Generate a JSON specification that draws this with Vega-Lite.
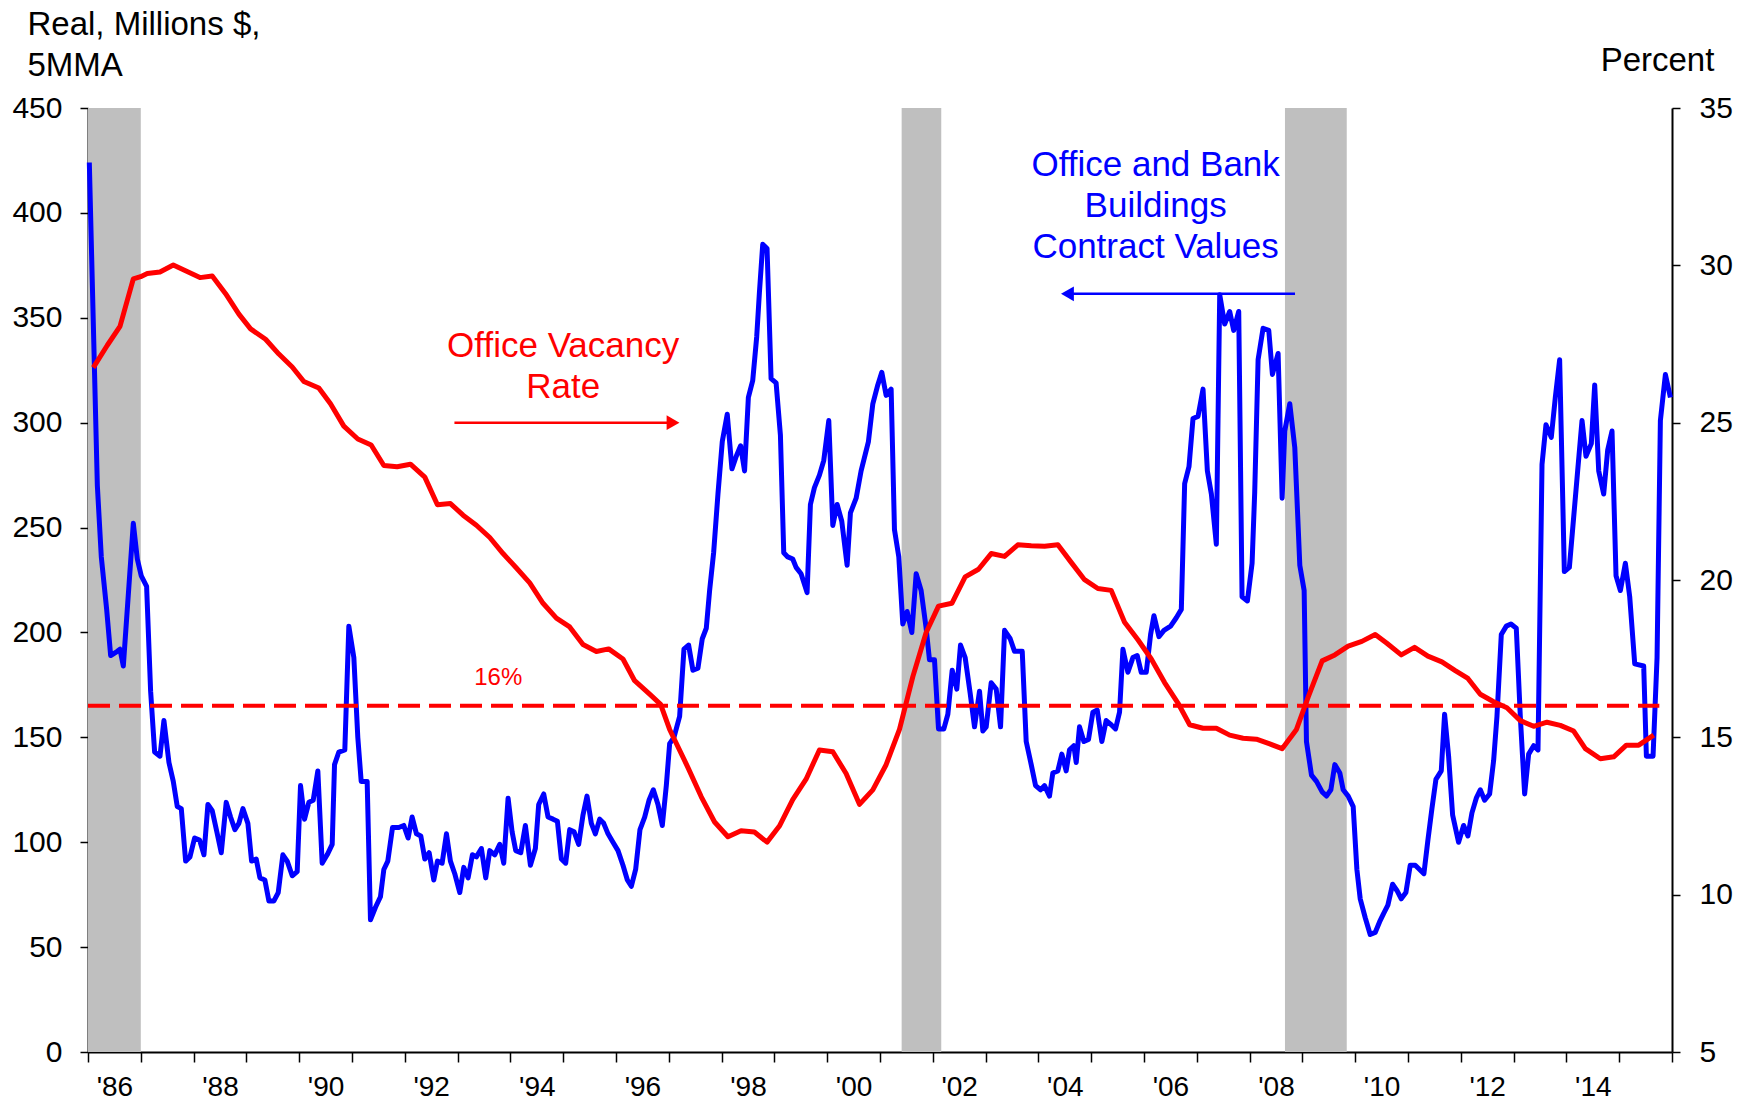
{
  "$schema": "https://vega.github.io/schema/vega-lite/v6.json",
  "width": 1584,
  "height": 944,
  "autosize": {"type": "none"},
  "padding": {"left": 88, "top": 108, "right": 71, "bottom": 50},
  "background": "white",
  "config": {
    "view": {"stroke": null},
    "font": "Liberation Sans",
    "axis": {"grid": false, "labelColor": "black", "titleColor": "black", "domainColor": "black", "tickColor": "black", "titleFontWeight": "normal"}
  },
  "datasets": {
    "blue": [
      {"t":1986.025,"v":424},{"t":1986.177,"v":270},{"t":1986.252,"v":236},{"t":1986.353,"v":211},{"t":1986.429,"v":189},{"t":1986.555,"v":191},{"t":1986.606,"v":192},{"t":1986.669,"v":184},{"t":1986.858,"v":252},{"t":1986.934,"v":235},{"t":1987.009,"v":227},{"t":1987.110,"v":222},{"t":1987.186,"v":172},{"t":1987.262,"v":143},{"t":1987.363,"v":141},{"t":1987.438,"v":158},{"t":1987.533,"v":138},{"t":1987.615,"v":129},{"t":1987.691,"v":117},{"t":1987.767,"v":116},{"t":1987.849,"v":91},{"t":1987.931,"v":93},{"t":1988.019,"v":102},{"t":1988.114,"v":101},{"t":1988.196,"v":94},{"t":1988.271,"v":118},{"t":1988.353,"v":115},{"t":1988.448,"v":104},{"t":1988.524,"v":95},{"t":1988.618,"v":119},{"t":1988.700,"v":112},{"t":1988.782,"v":106},{"t":1988.858,"v":109},{"t":1988.934,"v":116},{"t":1989.028,"v":109},{"t":1989.098,"v":91},{"t":1989.186,"v":92},{"t":1989.256,"v":83},{"t":1989.350,"v":82},{"t":1989.426,"v":72},{"t":1989.521,"v":72},{"t":1989.603,"v":76},{"t":1989.691,"v":94},{"t":1989.773,"v":91},{"t":1989.868,"v":84},{"t":1989.962,"v":86},{"t":1990.025,"v":127},{"t":1990.101,"v":111},{"t":1990.183,"v":119},{"t":1990.265,"v":120},{"t":1990.353,"v":134},{"t":1990.435,"v":90},{"t":1990.530,"v":94},{"t":1990.625,"v":99},{"t":1990.669,"v":137},{"t":1990.751,"v":143},{"t":1990.864,"v":144},{"t":1990.940,"v":203},{"t":1991.035,"v":188},{"t":1991.110,"v":150},{"t":1991.174,"v":129},{"t":1991.287,"v":129},{"t":1991.350,"v":63},{"t":1991.445,"v":69},{"t":1991.539,"v":74},{"t":1991.603,"v":87},{"t":1991.678,"v":91},{"t":1991.767,"v":107},{"t":1991.886,"v":107},{"t":1991.981,"v":108},
      {"t":1992.063,"v":102},{"t":1992.139,"v":112},{"t":1992.221,"v":104},{"t":1992.303,"v":103},{"t":1992.379,"v":92},{"t":1992.461,"v":95},{"t":1992.549,"v":82},{"t":1992.618,"v":91},{"t":1992.707,"v":90},{"t":1992.789,"v":104},{"t":1992.864,"v":91},{"t":1992.946,"v":85},{"t":1993.041,"v":76},{"t":1993.117,"v":88},{"t":1993.199,"v":83},{"t":1993.281,"v":94},{"t":1993.356,"v":93},{"t":1993.451,"v":97},{"t":1993.533,"v":83},{"t":1993.609,"v":96},{"t":1993.703,"v":94},{"t":1993.798,"v":99},{"t":1993.874,"v":90},{"t":1993.956,"v":121},{"t":1994.032,"v":105},{"t":1994.101,"v":96},{"t":1994.196,"v":95},{"t":1994.284,"v":108},{"t":1994.379,"v":89},{"t":1994.473,"v":97},{"t":1994.536,"v":118},{"t":1994.631,"v":123},{"t":1994.713,"v":112},{"t":1994.808,"v":111},{"t":1994.890,"v":110},{"t":1994.965,"v":92},{"t":1995.047,"v":90},{"t":1995.123,"v":106},{"t":1995.205,"v":105},{"t":1995.293,"v":99},{"t":1995.375,"v":113},{"t":1995.451,"v":122},{"t":1995.533,"v":109},{"t":1995.609,"v":104},{"t":1995.691,"v":111},{"t":1995.767,"v":109},{"t":1995.849,"v":104},{"t":1995.943,"v":100},{"t":1996.038,"v":96},{"t":1996.132,"v":89},{"t":1996.215,"v":82},{"t":1996.290,"v":79},{"t":1996.372,"v":87},{"t":1996.454,"v":106},{"t":1996.543,"v":112},{"t":1996.625,"v":120},{"t":1996.707,"v":125},{"t":1996.795,"v":118},{"t":1996.877,"v":108},{"t":1996.953,"v":127},{"t":1997.016,"v":147},{"t":1997.098,"v":150},{"t":1997.205,"v":160},{"t":1997.287,"v":192},{"t":1997.375,"v":194},{"t":1997.457,"v":182},{"t":1997.552,"v":183},{"t":1997.634,"v":197},{"t":1997.710,"v":202},{"t":1997.773,"v":220},{"t":1997.849,"v":238},{"t":1997.931,"v":266},{"t":1998.013,"v":291},{"t":1998.107,"v":304},{"t":1998.196,"v":278},{"t":1998.278,"v":284},{"t":1998.360,"v":289},{"t":1998.435,"v":277},
      {"t":1998.507,"v":312},{"t":1998.589,"v":320},{"t":1998.665,"v":341},{"t":1998.716,"v":362},{"t":1998.779,"v":385},{"t":1998.861,"v":383},{"t":1998.937,"v":321},{"t":1999.032,"v":319},{"t":1999.114,"v":294},{"t":1999.177,"v":238},{"t":1999.253,"v":236},{"t":1999.347,"v":235},{"t":1999.411,"v":231},{"t":1999.505,"v":228},{"t":1999.619,"v":219},{"t":1999.682,"v":261},{"t":1999.758,"v":269},{"t":1999.853,"v":275},{"t":1999.935,"v":282},{"t":2000.030,"v":301},{"t":2000.106,"v":251},{"t":2000.188,"v":261},{"t":2000.276,"v":253},{"t":2000.377,"v":232},{"t":2000.440,"v":257},{"t":2000.548,"v":264},{"t":2000.642,"v":277},{"t":2000.781,"v":291},{"t":2000.864,"v":309},{"t":2000.958,"v":318},{"t":2001.034,"v":324},{"t":2001.116,"v":313},{"t":2001.211,"v":316},{"t":2001.274,"v":249},{"t":2001.356,"v":236},{"t":2001.432,"v":204},{"t":2001.514,"v":210},{"t":2001.603,"v":200},{"t":2001.685,"v":228},{"t":2001.779,"v":220},{"t":2001.874,"v":202},{"t":2001.937,"v":187},{"t":2002.032,"v":187},{"t":2002.108,"v":154},{"t":2002.209,"v":154},{"t":2002.285,"v":161},{"t":2002.367,"v":182},{"t":2002.455,"v":173},{"t":2002.525,"v":194},{"t":2002.613,"v":188},{"t":2002.708,"v":171},{"t":2002.790,"v":155},{"t":2002.885,"v":172},{"t":2002.948,"v":153},{"t":2003.011,"v":155},{"t":2003.106,"v":176},{"t":2003.201,"v":173},{"t":2003.283,"v":155},{"t":2003.359,"v":201},{"t":2003.466,"v":197},{"t":2003.548,"v":191},{"t":2003.694,"v":191},{"t":2003.769,"v":148},{"t":2003.864,"v":137},{"t":2003.946,"v":127},{"t":2004.041,"v":125},
      {"t":2004.115,"v":127},{"t":2004.210,"v":122},{"t":2004.273,"v":133},{"t":2004.368,"v":134},{"t":2004.444,"v":142},{"t":2004.526,"v":134},{"t":2004.589,"v":144},{"t":2004.671,"v":146},{"t":2004.716,"v":138},{"t":2004.779,"v":155},{"t":2004.861,"v":148},{"t":2004.949,"v":149},{"t":2005.032,"v":162},{"t":2005.114,"v":163},{"t":2005.202,"v":148},{"t":2005.284,"v":158},{"t":2005.379,"v":156},{"t":2005.461,"v":154},{"t":2005.537,"v":162},{"t":2005.601,"v":192},{"t":2005.695,"v":181},{"t":2005.790,"v":188},{"t":2005.872,"v":189},{"t":2005.948,"v":181},{"t":2006.043,"v":181},{"t":2006.125,"v":199},{"t":2006.188,"v":208},{"t":2006.283,"v":198},{"t":2006.378,"v":201},{"t":2006.504,"v":203},{"t":2006.612,"v":207},{"t":2006.707,"v":211},{"t":2006.770,"v":271},{"t":2006.852,"v":279},{"t":2006.928,"v":302},{"t":2007.023,"v":303},{"t":2007.118,"v":316},{"t":2007.200,"v":277},{"t":2007.276,"v":266},{"t":2007.370,"v":242},{"t":2007.434,"v":361},{"t":2007.528,"v":347},{"t":2007.623,"v":353},{"t":2007.699,"v":344},{"t":2007.794,"v":353},{"t":2007.857,"v":217},{"t":2007.958,"v":215},{"t":2008.047,"v":233},{"t":2008.097,"v":267},{"t":2008.161,"v":330},{"t":2008.255,"v":345},{"t":2008.363,"v":344},{"t":2008.432,"v":323},{"t":2008.540,"v":333},{"t":2008.616,"v":264},{"t":2008.666,"v":296},{"t":2008.761,"v":309},{"t":2008.856,"v":288},{"t":2008.951,"v":232},{"t":2009.033,"v":220},{"t":2009.077,"v":148},{"t":2009.172,"v":132},{"t":2009.267,"v":129},{"t":2009.374,"v":124},{"t":2009.456,"v":122},{"t":2009.539,"v":125},{"t":2009.614,"v":137},{"t":2009.709,"v":133},{"t":2009.772,"v":125},{"t":2009.867,"v":122},{"t":2009.962,"v":117},
      {"t":2010.032,"v":87},{"t":2010.095,"v":73},{"t":2010.190,"v":64},{"t":2010.284,"v":56},{"t":2010.379,"v":57},{"t":2010.461,"v":62},{"t":2010.537,"v":66},{"t":2010.619,"v":70},{"t":2010.708,"v":80},{"t":2010.790,"v":77},{"t":2010.872,"v":73},{"t":2010.960,"v":76},{"t":2011.042,"v":89},{"t":2011.137,"v":89},{"t":2011.219,"v":87},{"t":2011.301,"v":85},{"t":2011.377,"v":101},{"t":2011.453,"v":116},{"t":2011.529,"v":130},{"t":2011.630,"v":134},{"t":2011.693,"v":161},{"t":2011.769,"v":141},{"t":2011.845,"v":113},{"t":2011.958,"v":100},{"t":2012.053,"v":108},{"t":2012.135,"v":103},{"t":2012.211,"v":114},{"t":2012.293,"v":121},{"t":2012.369,"v":125},{"t":2012.451,"v":120},{"t":2012.546,"v":123},{"t":2012.622,"v":139},{"t":2012.685,"v":160},{"t":2012.767,"v":199},{"t":2012.862,"v":203},{"t":2012.950,"v":204},{"t":2013.051,"v":202},{"t":2013.127,"v":160},{"t":2013.209,"v":123},{"t":2013.285,"v":142},{"t":2013.380,"v":146},{"t":2013.462,"v":144},{"t":2013.538,"v":280},{"t":2013.613,"v":299},{"t":2013.714,"v":293},{"t":2013.790,"v":312},{"t":2013.872,"v":330},{"t":2013.961,"v":229},{"t":2014.056,"v":231},{"t":2014.138,"v":255},{"t":2014.213,"v":277},{"t":2014.296,"v":301},{"t":2014.371,"v":284},{"t":2014.472,"v":290},{"t":2014.536,"v":318},{"t":2014.612,"v":277},{"t":2014.706,"v":266},{"t":2014.782,"v":287},{"t":2014.864,"v":296},{"t":2014.940,"v":227},{"t":2015.022,"v":220},{"t":2015.117,"v":233},{"t":2015.199,"v":217},{"t":2015.294,"v":185},{"t":2015.464,"v":184},{"t":2015.515,"v":141},{"t":2015.641,"v":141},{"t":2015.717,"v":188},{"t":2015.780,"v":301},{"t":2015.875,"v":323},{"t":2015.970,"v":312}
    ],
    "red": [
      {"t":1986.10,"r":26.75},{"t":1986.366,"r":27.46},{"t":1986.606,"r":28.06},{"t":1986.858,"r":29.57},{"t":1986.997,"r":29.64},{"t":1987.123,"r":29.74},{"t":1987.363,"r":29.79},{"t":1987.615,"r":30.01},{"t":1987.817,"r":29.85},{"t":1988.120,"r":29.61},{"t":1988.353,"r":29.66},{"t":1988.606,"r":29.10},{"t":1988.858,"r":28.45},{"t":1989.079,"r":27.98},{"t":1989.363,"r":27.65},{"t":1989.615,"r":27.18},{"t":1989.868,"r":26.77},{"t":1990.088,"r":26.31},{"t":1990.372,"r":26.10},{"t":1990.593,"r":25.60},{"t":1990.845,"r":24.89},{"t":1991.110,"r":24.48},{"t":1991.363,"r":24.29},{"t":1991.603,"r":23.64},{"t":1991.855,"r":23.60},{"t":1992.107,"r":23.68},{"t":1992.379,"r":23.27},{"t":1992.618,"r":22.39},{"t":1992.864,"r":22.43},{"t":1993.104,"r":22.06},{"t":1993.356,"r":21.74},{"t":1993.609,"r":21.35},{"t":1993.861,"r":20.84},{"t":1994.114,"r":20.38},{"t":1994.366,"r":19.91},{"t":1994.618,"r":19.26},{"t":1994.871,"r":18.79},{"t":1995.123,"r":18.51},{"t":1995.375,"r":17.95},{"t":1995.628,"r":17.73},{"t":1995.861,"r":17.81},{"t":1996.132,"r":17.49},{"t":1996.353,"r":16.80},{"t":1996.637,"r":16.37},{"t":1996.845,"r":16.05},{"t":1997.016,"r":15.25},{"t":1997.363,"r":14.04},{"t":1997.615,"r":13.11},{"t":1997.867,"r":12.31},{"t":1998.120,"r":11.84},{"t":1998.368,"r":12.03},{"t":1998.621,"r":11.99},{"t":1998.861,"r":11.67},{"t":1999.095,"r":12.18},{"t":1999.347,"r":13.02},{"t":1999.600,"r":13.67},{"t":1999.853,"r":14.60},{"t":2000.106,"r":14.54},{"t":2000.358,"r":13.85},{"t":2000.611,"r":12.87},{"t":2000.864,"r":13.33},{"t":2001.116,"r":14.13},{"t":2001.369,"r":15.25},{"t":2001.622,"r":16.93},{"t":2001.874,"r":18.33},{"t":2002.108,"r":19.17},{"t":2002.361,"r":19.26},{"t":2002.613,"r":20.10},{"t":2002.866,"r":20.34},{"t":2003.106,"r":20.84},{"t":2003.359,"r":20.75},{"t":2003.611,"r":21.12},{"t":2003.864,"r":21.09},{"t":2004.117,"r":21.07},{"t":2004.369,"r":21.12},{"t":2004.621,"r":20.56},{"t":2004.874,"r":20.01},{"t":2005.126,"r":19.73},{"t":2005.379,"r":19.67},{"t":2005.632,"r":18.66},{"t":2005.885,"r":18.10},{"t":2006.138,"r":17.49},{"t":2006.390,"r":16.74},{"t":2006.643,"r":16.09},{"t":2006.865,"r":15.40},{"t":2007.118,"r":15.29},{"t":2007.370,"r":15.29},{"t":2007.623,"r":15.07},{"t":2007.876,"r":14.97},{"t":2008.129,"r":14.94},{"t":2008.382,"r":14.79},{"t":2008.616,"r":14.64},{"t":2008.888,"r":15.25},{"t":2009.109,"r":16.28},{"t":2009.374,"r":17.43},{"t":2009.614,"r":17.62},{"t":2009.867,"r":17.90},{"t":2010.126,"r":18.05},{"t":2010.379,"r":18.27},{"t":2010.600,"r":17.99},{"t":2010.872,"r":17.62},{"t":2011.124,"r":17.86},{"t":2011.377,"r":17.58},{"t":2011.642,"r":17.40},{"t":2011.895,"r":17.12},{"t":2012.135,"r":16.87},{"t":2012.369,"r":16.37},{"t":2012.622,"r":16.13},{"t":2012.874,"r":15.94},{"t":2013.127,"r":15.53},{"t":2013.380,"r":15.35},{"t":2013.632,"r":15.48},{"t":2013.885,"r":15.38},{"t":2014.138,"r":15.20},{"t":2014.359,"r":14.64},{"t":2014.643,"r":14.32},{"t":2014.896,"r":14.38},{"t":2015.136,"r":14.75},{"t":2015.370,"r":14.75},{"t":2015.654,"r":15.07}
    ],
    "bands": [
      {"start":1986.0,"end":1987.0},
      {"start":2001.41,"end":2002.16},
      {"start":2008.67,"end":2009.84}
    ]
  },
  "layer": [
    {
      "data": {"name": "bands"},
      "mark": {"type": "rect", "color": "#bfbfbf"},
      "encoding": {
        "x": {"field": "start", "type": "quantitative", "scale": {"domain": [1986, 2016], "nice": false, "zero": false},
          "axis": {"orient": "bottom", "title": null, "values": [1986,1987,1988,1989,1990,1991,1992,1993,1994,1995,1996,1997,1998,1999,2000,2001,2002,2003,2004,2005,2006,2007,2008,2009,2010,2011,2012,2013,2014,2015,2016],
            "format": "d",
            "labelExpr": "(datum.value % 2 == 0 && datum.value < 2016) ? ('\\u0027' + slice(datum.label, 2)) : ''",
            "labelOffset": 26.4, "labelPadding": 11, "tickSize": 10, "tickWidth": 1.5, "domainWidth": 2, "labelFontSize": 28, "labelFlush": false, "labelOverlap": false, "labelBound": false}},
        "x2": {"field": "end"}
      }
    },
    {
      "data": {"name": "blue"},
      "mark": {"type": "line", "color": "#0000ff", "strokeWidth": 5, "strokeJoin": "round"},
      "encoding": {
        "x": {"field": "t", "type": "quantitative"},
        "y": {"field": "v", "type": "quantitative", "scale": {"domain": [0, 450], "nice": false},
          "axis": {"orient": "left", "values": [0,50,100,150,200,250,300,350,400,450], "format": "d",
            "title": ["Real, Millions $,", "5MMA"], "titleAngle": 0, "titleAlign": "left", "titleBaseline": "alphabetic",
            "titleX": -61, "titleY": -74, "titleFontSize": 33, "titleLineHeight": 41,
            "labelFontSize": 30, "labelPadding": 18, "tickSize": 8, "tickWidth": 1.5, "domainWidth": 2}}
      }
    },
    {
      "data": {"values": [{"x1": 2004.5, "x2": 2008.86, "y": 361.4}]},
      "mark": {"type": "rule", "color": "#0000ff", "strokeWidth": 2.5},
      "encoding": {
        "x": {"field": "x1", "type": "quantitative"},
        "x2": {"field": "x2"},
        "y": {"field": "y", "type": "quantitative", "scale": {"domain": [0, 450], "nice": false}, "axis": null}
      }
    },
    {
      "data": {"values": [{"x": 2004.55, "y": 361.4}]},
      "mark": {"type": "point", "shape": "triangle-left", "filled": true, "color": "#0000ff", "size": 220, "opacity": 1},
      "encoding": {
        "x": {"field": "x", "type": "quantitative"},
        "y": {"field": "y", "type": "quantitative", "scale": {"domain": [0, 450], "nice": false}, "axis": null}
      }
    },
    {
      "data": {"values": [{"x": 2006.22, "y": 417.5, "label": "Office and Bank\nBuildings\nContract Values"}]},
      "mark": {"type": "text", "color": "#0000ff", "fontSize": 35, "lineHeight": 41, "align": "center", "baseline": "alphabetic", "lineBreak": "\n", "font": "Liberation Sans"},
      "encoding": {
        "x": {"field": "x", "type": "quantitative"},
        "y": {"field": "y", "type": "quantitative", "scale": {"domain": [0, 450], "nice": false}, "axis": null},
        "text": {"field": "label", "type": "nominal"}
      }
    },
    {
      "data": {"values": [{"x1": 1986.0, "x2": 2015.76, "y": 16}]},
      "mark": {"type": "rule", "color": "#ff0000", "strokeWidth": 4, "strokeDash": [22, 9]},
      "encoding": {
        "x": {"field": "x1", "type": "quantitative"},
        "x2": {"field": "x2"},
        "y": {"field": "y", "type": "quantitative", "scale": {"domain": [5, 35], "nice": false, "zero": false}, "axis": null}
      }
    },
    {
      "data": {"name": "red"},
      "mark": {"type": "line", "color": "#ff0000", "strokeWidth": 5, "strokeJoin": "round"},
      "encoding": {
        "x": {"field": "t", "type": "quantitative"},
        "y": {"field": "r", "type": "quantitative", "scale": {"domain": [5, 35], "nice": false, "zero": false},
          "axis": {"orient": "right", "values": [5,10,15,20,25,30,35], "format": "d",
            "title": "Percent", "titleAngle": 0, "titleAlign": "center", "titleBaseline": "alphabetic",
            "titleX": -15, "titleY": -38, "titleFontSize": 33,
            "labelFontSize": 30, "labelPadding": 19, "tickSize": 8, "tickWidth": 1.5, "domainWidth": 2}}
      }
    },
    {
      "data": {"values": [{"x1": 1992.94, "x2": 1997.05, "y": 25}]},
      "mark": {"type": "rule", "color": "#ff0000", "strokeWidth": 2.5},
      "encoding": {
        "x": {"field": "x1", "type": "quantitative"},
        "x2": {"field": "x2"},
        "y": {"field": "y", "type": "quantitative", "scale": {"domain": [5, 35], "nice": false, "zero": false}, "axis": null}
      }
    },
    {
      "data": {"values": [{"x": 1997.08, "y": 25}]},
      "mark": {"type": "point", "shape": "triangle-right", "filled": true, "color": "#ff0000", "size": 220, "opacity": 1},
      "encoding": {
        "x": {"field": "x", "type": "quantitative"},
        "y": {"field": "y", "type": "quantitative", "scale": {"domain": [5, 35], "nice": false, "zero": false}, "axis": null}
      }
    },
    {
      "data": {"values": [{"x": 1995.0, "y": 27.09, "label": "Office Vacancy\nRate"}]},
      "mark": {"type": "text", "color": "#ff0000", "fontSize": 35, "lineHeight": 41, "align": "center", "baseline": "alphabetic", "lineBreak": "\n", "font": "Liberation Sans"},
      "encoding": {
        "x": {"field": "x", "type": "quantitative"},
        "y": {"field": "y", "type": "quantitative", "scale": {"domain": [5, 35], "nice": false, "zero": false}, "axis": null},
        "text": {"field": "label", "type": "nominal"}
      }
    },
    {
      "data": {"values": [{"x": 1993.77, "y": 16.65, "label": "16%"}]},
      "mark": {"type": "text", "color": "#ff0000", "fontSize": 24, "align": "center", "baseline": "alphabetic", "font": "Liberation Sans"},
      "encoding": {
        "x": {"field": "x", "type": "quantitative"},
        "y": {"field": "y", "type": "quantitative", "scale": {"domain": [5, 35], "nice": false, "zero": false}, "axis": null},
        "text": {"field": "label", "type": "nominal"}
      }
    }
  ],
  "resolve": {"scale": {"y": "independent"}, "axis": {"y": "independent"}}
}
